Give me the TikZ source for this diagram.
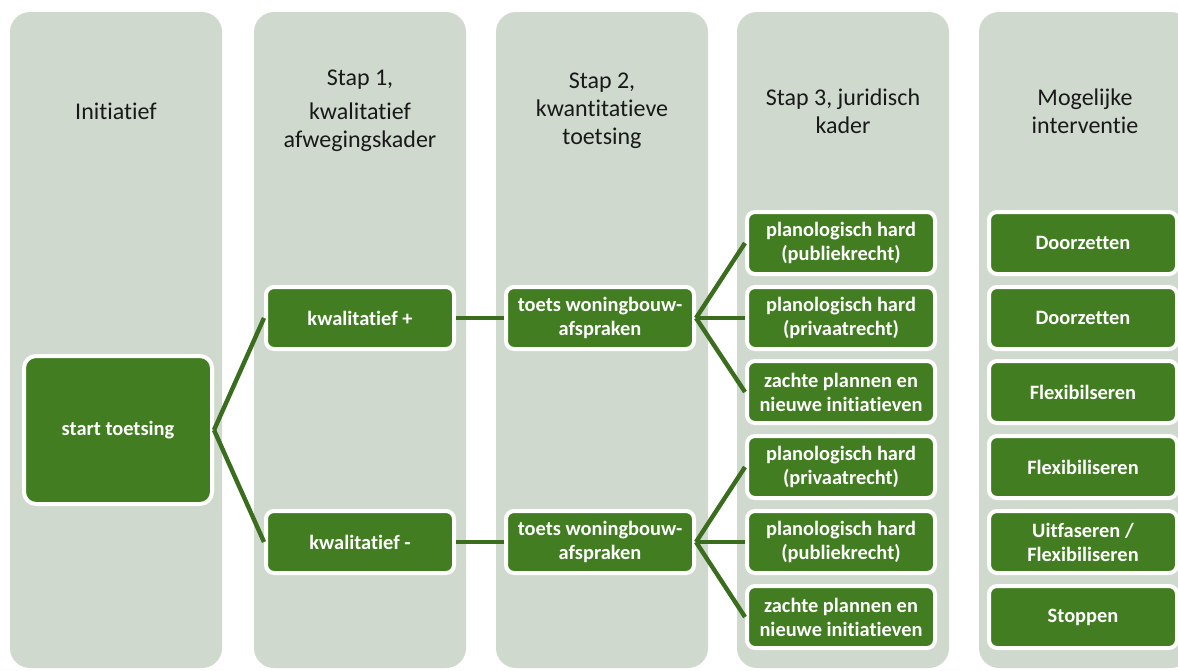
\documentclass[tikz,border=0pt]{standalone}
\usepackage{fontspec}
\setmainfont[Ligatures=NoCommon]{Carlito}
\definecolor{kolomgrijs}{RGB}{207,217,206}
\definecolor{blokgroen}{RGB}{66,126,33}
\definecolor{lijngroen}{RGB}{58,110,30}

\begin{document}
\begin{tikzpicture}[x=0.5pt,y=-0.5pt,
    kolom/.style={fill=kolomgrijs, rounded corners=10pt},
    kop/.style={align=center, text=black!90, font=\fontsize{12}{14}\selectfont},
    blok/.style={draw=white, line width=2pt, fill=blokgroen, rounded corners=4pt,
      text=white, align=center, inner sep=0pt,
      font=\fontsize{10.2}{12}\bfseries\selectfont,
      minimum width=94pt, minimum height=31pt},
    tak/.style={draw=lijngroen, line width=2.2pt}]
        \useasboundingbox (0,0) rectangle (1178,670);
        \clip (0,0) rectangle (1178,670);

        % achtergrondkolommen
        \foreach \x in {116,360,602,843,1085}
          \fill[kolom] (\x-106,12) rectangle (\x+106,668);

        % koppen
        \node[kop] (kop1) at (116,111) {Initiatief};
        \node[kop] (kop2) at (360,111) {Stap 1,\\[3pt]kwalitatief\\afwegingskader};
        \node[kop] (kop3) at (602,111) {Stap 2,\\kwantitatieve\\toetsing};
        \node[kop] (kop4) at (843,111) {Stap 3, juridisch\\kader};
        \node[kop] (kop5) at (1085,111) {Mogelijke\\interventie};

        % blokken
        \node[blok, minimum height=74pt, rounded corners=6pt] (start) at (118,430) {start toetsing};
        \node[blok] (kwalplus) at (360,318) {kwalitatief +};
        \node[blok] (kwalmin) at (360,542) {kwalitatief -};
        \node[blok] (toetsa) at (600,318) {toets woningbouw-\\afspraken};
        \node[blok] (toetsb) at (600,542) {toets woningbouw-\\afspraken};

        \node[blok] (jur1) at (841,243) {planologisch hard\\(publiekrecht)};
        \node[blok] (jur2) at (841,318) {planologisch hard\\(privaatrecht)};
        \node[blok] (jur3) at (841,392) {zachte plannen en\\nieuwe initiatieven};
        \node[blok] (jur4) at (841,467) {planologisch hard\\(privaatrecht)};
        \node[blok] (jur5) at (841,542) {planologisch hard\\(publiekrecht)};
        \node[blok] (jur6) at (841,617) {zachte plannen en\\nieuwe initiatieven};

        \node[blok] (int1) at (1083,243) {Doorzetten};
        \node[blok] (int2) at (1083,318) {Doorzetten};
        \node[blok] (int3) at (1083,392) {Flexibilseren};
        \node[blok] (int4) at (1083,467) {Flexibiliseren};
        \node[blok] (int5) at (1083,542) {Uitfaseren /\\Flexibiliseren};
        \node[blok] (int6) at (1083,617) {Stoppen};

        % verbindingen
        \draw[tak] (start.east) -- (kwalplus.west);
        \draw[tak] (start.east) -- (kwalmin.west);
        \draw[tak] (kwalplus.east) -- (toetsa.west);
        \draw[tak] (kwalmin.east) -- (toetsb.west);
        \foreach \j in {1,2,3}
          \draw[tak] (toetsa.east) -- (jur\j.west);
        \foreach \j in {4,5,6}
          \draw[tak] (toetsb.east) -- (jur\j.west);
\end{tikzpicture}
\end{document}
